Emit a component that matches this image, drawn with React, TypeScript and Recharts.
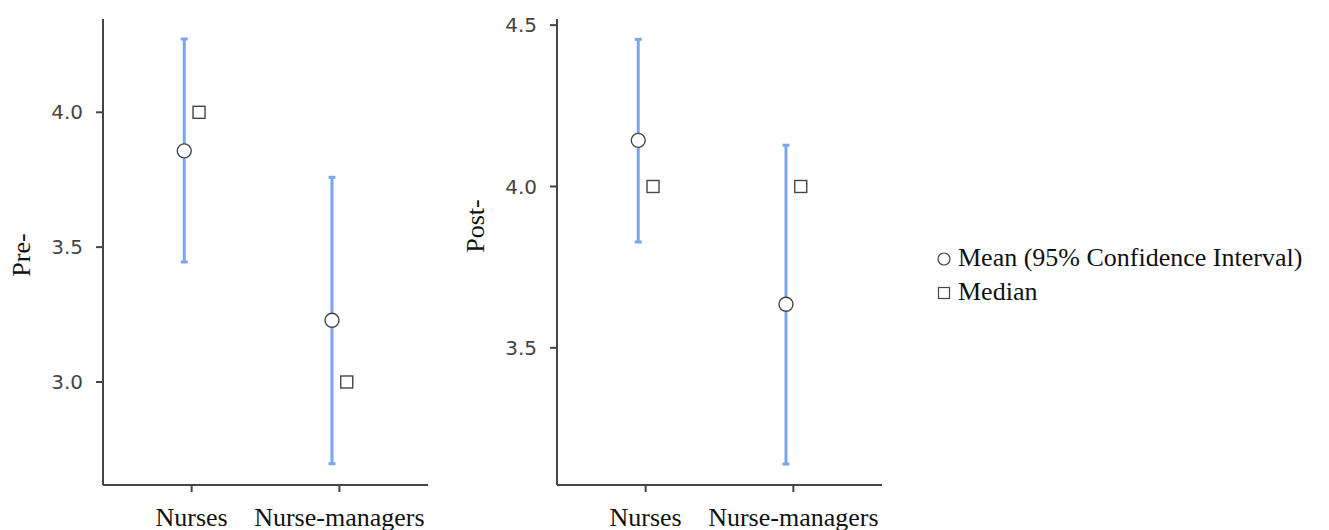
import React from 'react';
import { ScatterChart, Scatter, XAxis, YAxis, ErrorBar } from 'recharts';

// ---- data ----
const categories = ['Nurses', 'Nurse-managers'];

const preMean = [3.857, 3.229];
const preLow = [3.445, 2.697];
const preHigh = [4.272, 3.759];
const preMedian = [4.0, 3.0];
const preTicks = [3.0, 3.5, 4.0];
const preDomain = [2.618, 4.346];

const postMean = [4.143, 3.635];
const postLow = [3.828, 3.14];
const postHigh = [4.456, 4.128];
const postMedian = [4.0, 4.0];
const postTicks = [3.5, 4.0, 4.5];
const postDomain = [3.075, 4.519];

const legendLabels = ['Mean (95% Confidence Interval)', 'Median'];
const axisTitles = ['Pre-', 'Post-'];

// ---- styling ----
const DODGE = 0.05;
const X_DOMAIN = [0.4, 2.6];
const BLUE = '#7aa7ea';
const INK = '#454545';
const SERIF = '"Liberation Serif", "Times New Roman", serif';
const SANS = '"DejaVu Sans", sans-serif';

function buildMean(mean: number[], low: number[], high: number[]) {
  return categories.map((c, i) => ({
    name: c,
    x: i + 1 - DODGE,
    y: mean[i],
    err: [mean[i] - low[i], high[i] - mean[i]],
  }));
}
function buildMedian(med: number[]) {
  return categories.map((c, i) => ({ name: c, x: i + 1 + DODGE, y: med[i] }));
}

const MeanDot = (p: any) => (
  <circle cx={p.cx} cy={p.cy} r={7} fill="#fff" stroke={INK} strokeWidth={1.4} />
);
const MedianBox = (p: any) => (
  <rect x={p.cx - 6} y={p.cy - 6} width={12} height={12} fill="#fff" stroke={INK} strokeWidth={1.4} />
);

const AxisTitle = (p: any) => (
  <text
    x={p.tx}
    y={p.ty}
    transform={`rotate(-90 ${p.tx} ${p.ty})`}
    textAnchor="middle"
    dominantBaseline="central"
    fontFamily={SERIF}
    fontSize={26}
    fill="#111"
  >
    {p.text}
  </text>
);

type PanelProps = {
  left: number;
  width: number;
  yAxisWidth: number;
  marginRight: number;
  domain: number[];
  ticks: number[];
  title: string;
  titleX: number;
  titleY: number;
  meanData: any[];
  medianData: any[];
};

function Panel(props: PanelProps) {
  const { left, width, yAxisWidth, marginRight, domain, ticks, title, titleX, titleY, meanData, medianData } = props;
  return (
    <div style={{ position: 'absolute', left, top: 0 }}>
      <ScatterChart width={width} height={530} margin={{ top: 19, right: marginRight, bottom: 0, left: 0 }}>
        <XAxis
          type="number"
          dataKey="x"
          domain={X_DOMAIN}
          ticks={[1, 2]}
          interval={0}
          tickFormatter={(v: number) => categories[Math.round(v) - 1]}
          height={45}
          tickSize={7}
          tickMargin={16}
          axisLine={{ stroke: INK, strokeWidth: 2 }}
          tickLine={{ stroke: INK, strokeWidth: 2 }}
          tick={{ fontFamily: SERIF, fontSize: 26, fill: '#111' }}
        />
        <YAxis
          type="number"
          dataKey="y"
          domain={domain}
          ticks={ticks}
          interval={0}
          allowDataOverflow
          tickFormatter={(v: number) => v.toFixed(1)}
          width={yAxisWidth}
          tickSize={7}
          tickMargin={13}
          axisLine={{ stroke: INK, strokeWidth: 2 }}
          tickLine={{ stroke: INK, strokeWidth: 2 }}
          tick={{ fontFamily: SANS, fontSize: 20, fill: '#444' }}
          label={<AxisTitle text={title} tx={titleX} ty={titleY} />}
        />
        <Scatter data={meanData} shape={MeanDot} isAnimationActive={false}>
          <ErrorBar dataKey="err" direction="y" width={3.5} stroke={BLUE} strokeWidth={3} isAnimationActive={false} />
        </Scatter>
        <Scatter data={medianData} shape={MedianBox} isAnimationActive={false} />
      </ScatterChart>
    </div>
  );
}

function LegendBox() {
  return (
    <svg style={{ position: 'absolute', left: 930, top: 240 }} width={399} height={80}>
      <circle cx={14} cy={19} r={6} fill="#fff" stroke={INK} strokeWidth={1.2} />
      <text x={28} y={26} fontFamily={SERIF} fontSize={26} fill="#111">
        {legendLabels[0]}
      </text>
      <rect x={8.5} y={47.5} width={11} height={11} fill="#fff" stroke={INK} strokeWidth={1.2} />
      <text x={28} y={60} fontFamily={SERIF} fontSize={26} fill="#111">
        {legendLabels[1]}
      </text>
    </svg>
  );
}

export default function App() {
  return (
    <div style={{ position: 'absolute', left: 0, top: 0, width: 1329, height: 530, background: '#fff' }}>
      <Panel
        left={0}
        width={440}
        yAxisWidth={103}
        marginRight={12}
        domain={preDomain}
        ticks={preTicks}
        title={axisTitles[0]}
        titleX={21}
        titleY={255}
        meanData={buildMean(preMean, preLow, preHigh)}
        medianData={buildMedian(preMedian)}
      />
      <Panel
        left={440}
        width={450}
        yAxisWidth={117}
        marginRight={8}
        domain={postDomain}
        ticks={postTicks}
        title={axisTitles[1]}
        titleX={35}
        titleY={226}
        meanData={buildMean(postMean, postLow, postHigh)}
        medianData={buildMedian(postMedian)}
      />
      <LegendBox />
    </div>
  );
}
